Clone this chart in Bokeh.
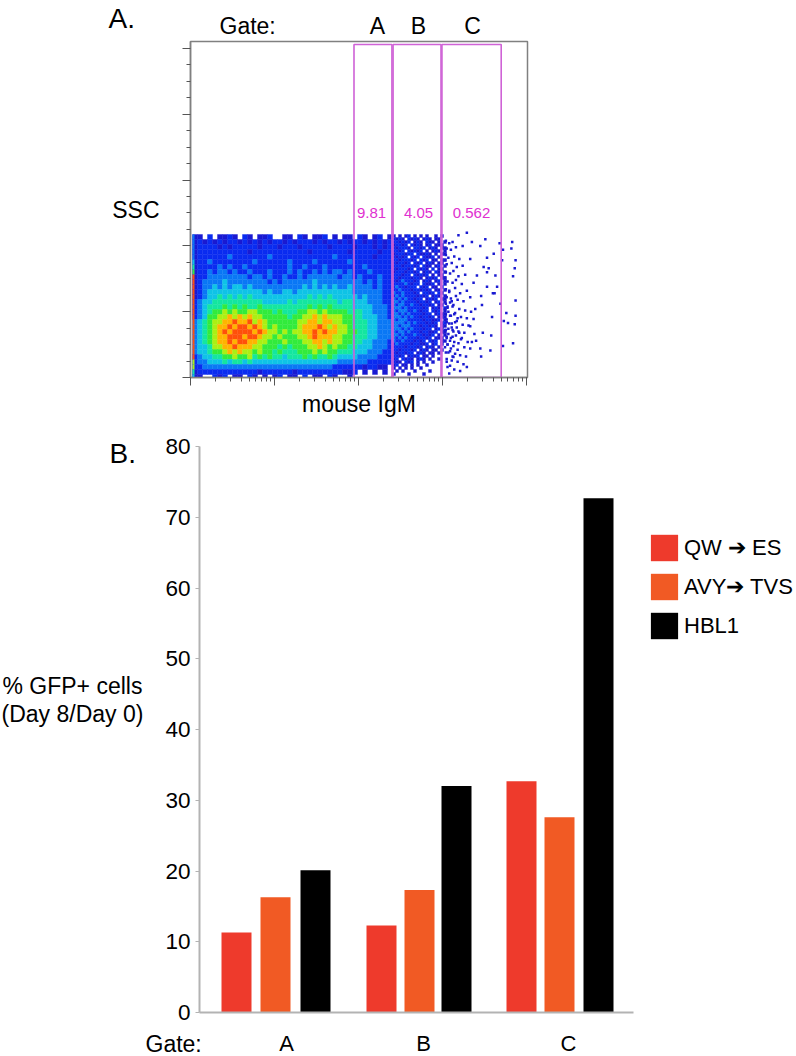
from bokeh.core.properties import value
from bokeh.embed import file_html
from bokeh.layouts import column
from bokeh.models import (ColumnDataSource, CustomJSTickFormatter, FixedTicker, Label, Legend,
                          LegendItem, LogTicker, Range1d)
from bokeh.plotting import figure
from bokeh.resources import INLINE

FONT = "Liberation Sans"

# ---------- Panel B data ----------
gates = ["A", "B", "C"]
qw_es = [11.3, 12.3, 32.7]
avy_tvs = [16.3, 17.3, 27.6]
hbl1 = [20.1, 32.0, 72.7]
series_names = ["QW \u2794 ES", "AVY\u2794 TVS", "HBL1"]
series_colors = ["#EE3A2C", "#F15A24", "#000000"]
y_ticks_b = [0, 10, 20, 30, 40, 50, 60, 70, 80]
# bar slots along the gate axis
slot_qw = [37, 182, 322]
slot_avy = [76, 220, 360]
slot_hbl = [116, 257, 399]
gate_ticks = [87, 224, 369]

# ---------- Panel A data ----------
gate_left = [884, 2580, 9850]
gate_right = [2500, 9600, 50000]
gate_percent = ["9.81", "4.05", "0.562"]
gate_edge = "#CF62D6"
ssc_ticks = [0, 50, 100, 150, 200, 250]
ssc_minor = [12.5, 25, 37.5, 62.5, 75, 87.5, 112.5, 125, 137.5, 162.5, 175, 187.5, 212.5, 225, 237.5]

density_palette = [None, "#1A1AD2", "#0A2CF0", "#0A78F5", "#0FC3E6", "#14E6A0",
                   "#32EB3C", "#AAF014", "#FFB400", "#FF500A"]
# density level per coarse cell, top row first, left to right on the IgM axis
density_rows = [
    "1102011210 2101120011 0210112010 1102101201",
    "1212121221 2121212212 1222121221 2122121212",
    "1222212122 2221222122 2122222122 2212221212",
    "1222222222 2122222222 2221222222 2122222122",
    "1222222322 2222232222 2222222232 2222221222",
    "1223222222 2232222223 2222322222 2322222222",
    "1222232322 3222222223 2232223222 2222322222",
    "1223233232 2322232223 2322323233 2322232222",
    "1223333333 3233232232 2323333332 3323222322",
    "1233334333 3333323233 3333433333 3333232322",
    "1233434344 3433333333 3343434343 3433332322",
    "1234444444 4444343344 3444444444 4433333322",
    "1234454545 4544444444 4445454544 4443433322",
    "2344555555 5555444445 4555555554 5544433322",
    "2345556565 6556555555 5556565655 5544443332",
    "2345667676 6776665655 5667767666 6555443332",
    "2346677878 7877666665 6677878777 6655444332",
    "3456778898 8978766666 6778878877 6655544333",
    "3456788989 9898767666 6788898787 7655544333",
    "3456789899 9989877676 7788989887 7665544333",
    "3456788999 8998776766 6778988877 6655544333",
    "3456788989 9887766676 6677887877 6655443332",
    "3445778898 8877666565 6667787676 6554443332",
    "3445667878 7767665655 5666767665 5544433322",
    "2344556676 6756565545 5565655654 4443333222",
    "2334445455 4544444444 4444444443 3333322222",
    "2233333333 3333333333 3333333322 2222122110",
    "1222222222 2221222222 1222222222 1120101010",
    "1100212011 0210101201 1020110210 0100000000",
]
# density level per fine cell for the thinning region right of the coarse grid
fine_rows = [
    "101012010101001010", "212102121012101100", "221212012102110101", "122120212101201110",
    "212221022120121011", "221202121201012101", "122212202112101011", "212120212021120100",
    "221222120212011011", "212212021201210110", "222122212021101201", "212221202121020110",
    "122212212012102101", "222122021212010110", "221222122101212011", "212322212012101201",
    "222232122021120101", "232212220212011020", "223222122121201101", "322322212022120210",
    "232322221212012101", "323232212201212011", "332322221221201201", "323322322122120110",
    "333232222212012102", "323332232122021201", "332323222212201211", "333232322122120121",
    "323332222212211201", "333323232221212012", "332333222122121021", "333232322212201210",
    "323323222122112011", "332322232212120101", "323232221221201110", "322322212120212011",
    "232222122112012010", "222212221201210100", "221222120121011010", "212212201210110100",
    "221201212011010000", "120212101210100100", "211021201010010000", "120110101001000000",
    "101010100100000000", "010100010000100000", "100001000010000000",
]
edge_strip = "33333456" + "99999999999999999" + "77" + "54"
# isolated events, log10(IgM) and SSC
sparse_log_igm = [4.29, 4.51, 4.68, 4.83, 4.72, 4.82, 4.61, 4.53, 4.71, 4.87, 4.49, 4.55, 4.86, 4.84, 4.65, 4.60,
                  4.53, 4.46, 4.62, 4.87, 4.69, 4.47, 4.59, 4.76, 4.87, 4.73, 4.78, 4.86, 4.58, 4.48, 4.72, 4.84,
                  4.45, 4.57, 4.46, 4.29, 4.09, 4.13, 4.35, 4.31, 4.37, 4.39, 4.33, 4.37, 4.41, 4.33, 4.35, 4.24,
                  4.19, 4.45, 4.63, 4.53,
                  4.04, 4.08, 4.12, 4.05, 4.10, 4.16, 4.04, 4.07, 4.14, 4.20, 4.05, 4.11, 4.17, 4.24, 4.04, 4.09,
                  4.13, 4.19, 4.27, 4.06, 4.12, 4.16, 4.23, 4.04, 4.08, 4.15, 4.21, 4.29, 4.05, 4.10, 4.18, 4.25,
                  4.06, 4.13, 4.20, 4.27, 4.34, 4.04, 4.09, 4.15, 4.22, 4.29, 4.05, 4.11, 4.17, 4.24, 4.33, 4.07,
                  4.12, 4.19, 4.26, 4.38, 4.05, 4.10, 4.16, 4.22, 4.30, 4.40, 4.06, 4.13, 4.19, 4.26, 4.33, 4.04,
                  4.09, 4.15, 4.21, 4.28, 4.05, 4.11, 4.18, 4.25, 4.06, 4.14, 4.21, 4.08, 4.03, 4.03, 4.03, 4.03,
                  4.03,
                  4.04, 4.06, 4.09, 4.12, 4.07, 4.10, 4.14, 4.18, 4.05, 4.08, 4.11, 4.15, 4.04, 4.07, 4.13, 4.17,
                  4.05, 4.09, 4.12, 4.20, 4.06, 4.10, 4.14, 4.23, 4.04, 4.08, 4.11, 4.16, 4.07, 4.12, 4.18, 4.05]
sparse_ssc = [110, 105, 102, 103, 97, 98, 94, 91, 89, 89, 84, 83, 83, 77, 69, 64,
              69, 62, 64, 58.5, 56, 55, 46, 49, 47, 43, 41.5, 40.5, 32, 34, 24, 26,
              22, 20.5, 16, 8, 9, 15.5, 27, 39.5, 44.5, 52, 61, 72, 77.5, 90, 103, 100,
              108, 100, 77.5, 80,
              104, 102, 103, 98, 97, 99, 93, 91, 92, 90, 86, 87, 84, 85, 80, 79,
              81, 77, 78, 73, 72, 74, 71, 67, 66, 68, 64, 66, 61, 60, 59, 58,
              54, 55, 52, 51, 50, 48, 47, 49, 46, 45, 42, 41, 43, 40, 39, 37,
              36, 35, 34, 33, 31, 30, 32, 29, 27, 28, 25, 24, 26, 23, 22, 19,
              20, 18, 17, 16, 14, 13, 12, 10, 8, 6, 5, 3, 23, 36, 52, 76,
              89,
              56, 53, 57, 54, 50, 47, 48, 45, 44, 41, 38, 42, 36, 33, 35, 38,
              30, 28, 31, 34, 25, 22, 27, 30, 62, 65, 58, 62, 19, 16, 21, 12]

# text outside the plot frames: content, then page-pixel anchors
title_texts = ["A.", "B."]
title_x = [108, 109]
title_y = [18, 453]
side_texts = ["Gate:", "% GFP+ cells", "(Day 8/Day 0)", "Gate:"]
side_x = [219, 2, 1, 145]
side_y = [25, 685, 713, 1043]
gate_head_x = [377, 418, 472]
gate_head_y = [25, 25, 25]


def add_label(p, frame_left, frame_bottom, px, py, text, size, align="left", color="black"):
    p.add_layout(Label(x=px - frame_left, y=frame_bottom - py, x_units="screen", y_units="screen",
                       text=text, text_font=FONT, text_font_size=f"{size}px", text_color=color,
                       text_align=align, text_baseline="middle"))


# ========== Panel A ==========
FA_L, FA_B = 190, 377
pa = figure(width=796, height=430, output_backend="svg", toolbar_location=None,
            x_axis_type="log", x_range=Range1d(10, 10 ** 5.012), y_range=Range1d(0, 255.3),
            frame_width=337, frame_height=336, min_border_left=190, min_border_right=269,
            min_border_top=41, min_border_bottom=53)
pa.grid.visible = False
pa.outline_line_color = "#808080"
pa.outline_line_width = 1.5

blank = CustomJSTickFormatter(code="return ''")
xa = pa.xaxis[0]
xa.ticker = LogTicker(num_minor_ticks=10)
xa.formatter = blank
xa.axis_label = "mouse IgM"
xa.axis_label_standoff = 5
ya = pa.yaxis[0]
ya.ticker = FixedTicker(ticks=ssc_ticks, minor_ticks=ssc_minor)
ya.formatter = blank
ya.axis_label = "SSC"
ya.axis_label_orientation = "horizontal"
ya.axis_label_standoff = 23
for ax in (xa, ya):
    ax.axis_label_text_font = FONT
    ax.axis_label_text_font_size = "23px"
    ax.axis_label_text_font_style = "normal"
    ax.axis_label_text_color = "black"
    ax.axis_line_color = "#808080"
    ax.axis_line_width = 1.5
    ax.major_tick_line_color = "#555555"
    ax.minor_tick_line_color = "#555555"
    ax.major_tick_in = 0
    ax.minor_tick_in = 0
    ax.major_tick_out = 8
    ax.minor_tick_out = 4

# density cells: grid geometry follows the plot's own log / linear scales
SSC_PER_PX = 50 / 65.8
LOG_PER_PX = 1 / 84
SSC_TOP = 108.66


def add_cells(cells, rows, log_start, cell_px):
    log_step = cell_px * LOG_PER_PX
    ssc_step = cell_px * SSC_PER_PX
    for r, row in enumerate(rows):
        for c, ch in enumerate(row.replace(" ", "")):
            if ch == "0":
                continue
            cells["left"].append(10 ** (log_start + c * log_step))
            cells["right"].append(10 ** (log_start + (c + 1) * log_step))
            cells["top"].append(SSC_TOP - r * ssc_step)
            cells["bottom"].append(SSC_TOP - (r + 1) * ssc_step)
            cells["color"].append(density_palette[int(ch)])


cells = dict(left=[], right=[], top=[], bottom=[], color=[])
add_cells(cells, density_rows, 1 + 2 * LOG_PER_PX, 5)
add_cells(cells, fine_rows, 1 + 202 * LOG_PER_PX, 3)
pa.quad(source=ColumnDataSource(cells), left="left", right="right", top="top", bottom="bottom",
        fill_color="color", line_color="color", line_width=0.4)

strip = dict(left=[], right=[], top=[], bottom=[], color=[])
for r, ch in enumerate(edge_strip):
    strip["left"].append(10 ** (1 + 2 * LOG_PER_PX))
    strip["right"].append(10 ** (1 + 4 * LOG_PER_PX))
    strip["top"].append(SSC_TOP - r * 5 * SSC_PER_PX)
    strip["bottom"].append(SSC_TOP - (r + 1) * 5 * SSC_PER_PX)
    strip["color"].append(density_palette[int(ch)])
pa.quad(source=ColumnDataSource(strip), left="left", right="right", top="top", bottom="bottom",
        fill_color="color", line_color=None)

pa.scatter(x=[10 ** v for v in sparse_log_igm], y=sparse_ssc, marker="square", size=2.5,
           fill_color="#1A1AD2", line_color=None)

pa.quad(left=gate_left, right=gate_right, top=[253] * 3, bottom=[0] * 3,
        fill_color=None, line_color=gate_edge, line_width=1.6)

for px, t in zip([371, 418, 471], gate_percent):
    add_label(pa, FA_L, FA_B, px, 212, t, 15, align="center", color="#E030D0")

# ========== Panel B ==========
pb = figure(width=787, height=625, output_backend="svg", toolbar_location=None,
            x_range=Range1d(0, 434), y_range=Range1d(0, 80), margin=(0, 0, 0, 9),
            frame_width=434, frame_height=566, min_border_left=190, min_border_right=163,
            min_border_top=16, min_border_bottom=43)
pb.grid.visible = False
pb.outline_line_color = None

r1 = pb.vbar(x=slot_qw, top=qw_es, width=30, color=series_colors[0], line_color=None)
r2 = pb.vbar(x=slot_avy, top=avy_tvs, width=30, color=series_colors[1], line_color=None)
r3 = pb.vbar(x=slot_hbl, top=hbl1, width=30, color=series_colors[2], line_color=None)

yb = pb.yaxis[0]
yb.ticker = FixedTicker(ticks=y_ticks_b)
yb.minor_tick_line_color = None
yb.major_tick_in = 0
yb.major_tick_out = 4
yb.major_tick_line_color = "#B3B3B3"
yb.axis_line_color = "#B3B3B3"
yb.axis_line_width = 2
yb.major_label_text_font = FONT
yb.major_label_text_font_size = "22.5px"
yb.major_label_text_color = "black"
yb.major_label_standoff = 5

xb = pb.xaxis[0]
xb.ticker = FixedTicker(ticks=gate_ticks)
xb.major_label_overrides = dict(zip(gate_ticks, gates))
xb.minor_tick_line_color = None
xb.major_tick_line_color = None
xb.axis_line_color = "#B3B3B3"
xb.axis_line_width = 2
xb.major_label_text_font = FONT
xb.major_label_text_font_size = "22px"
xb.major_label_text_color = "black"
xb.major_label_standoff = 12

legend = Legend(items=[LegendItem(label=n, renderers=[r]) for n, r in zip(series_names, [r1, r2, r3])],
                location=(14, 370), glyph_width=34, glyph_height=33, spacing=6, label_standoff=3,
                padding=0, margin=0, border_line_color=None, background_fill_alpha=0,
                label_text_font=FONT, label_text_font_size="22px",
                label_text_color="black", label_height=33)
pb.add_layout(legend, "right")

# ========== Page text layer ==========
overlay = figure(width=796, height=1056, output_backend="svg", toolbar_location=None,
                 x_range=Range1d(0, 796), y_range=Range1d(1056, 0),
                 x_axis_location=None, y_axis_location=None, min_border=0,
                 styles={"position": "absolute", "top": "0px", "left": "0px", "pointer-events": "none"})
overlay.grid.visible = False
overlay.outline_line_color = None
overlay.background_fill_color = None
overlay.border_fill_color = None
overlay.text(x=title_x, y=title_y, text=title_texts, text_font=value(FONT), text_font_size="28px",
             text_color="black", text_baseline="middle", text_align="left")
overlay.text(x=side_x, y=side_y, text=side_texts, text_font=value(FONT), text_font_size="23px",
             text_color="black", text_baseline="middle", text_align="left")
overlay.text(x=gate_head_x, y=gate_head_y, text=gates, text_font=value(FONT), text_font_size="23px",
             text_color="black", text_baseline="middle", text_align="center")

open("out.html", "w").write(file_html([column(pa, pb, spacing=0), overlay], INLINE))
